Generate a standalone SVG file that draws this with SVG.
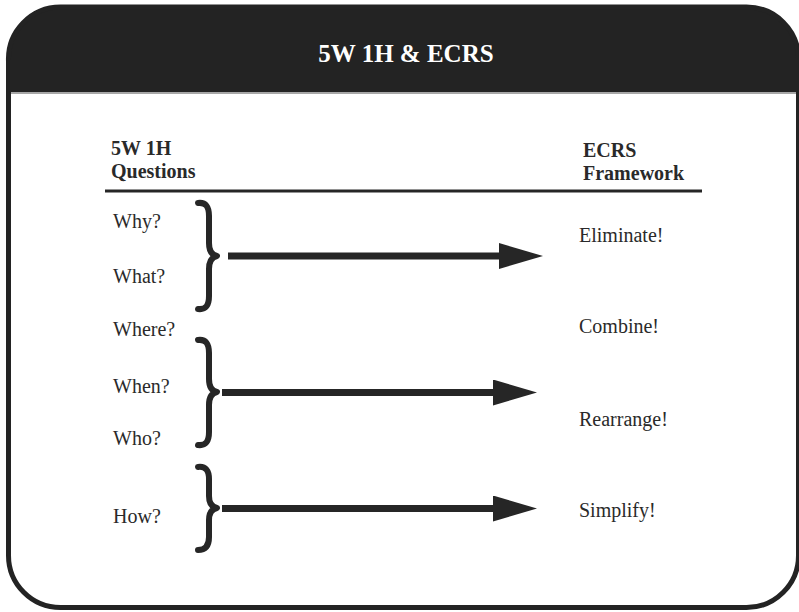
<svg xmlns="http://www.w3.org/2000/svg" width="799" height="612" viewBox="0 0 799 612">
  <style>
    .label { font-family: "Liberation Serif", "Times New Roman", serif; font-size: 20px; fill: #2a2a2a; }
    .head { font-family: "Liberation Serif", "Times New Roman", serif; font-size: 20px; font-weight: bold; fill: #2a2a2a; }
    .title { font-family: "Liberation Serif", "Times New Roman", serif; font-size: 25px; font-weight: bold; fill: #ffffff; }
    .brace { fill: none; stroke: #262626; stroke-width: 6; stroke-linecap: round; stroke-linejoin: round; }
    .shaft { stroke: #262626; stroke-width: 7; fill: none; }
  </style>
  <defs>
    <clipPath id="frameClip">
      <path d="M8.5,61 A52,52 0 0 1 60.5,7 L746.5,7 A52,52 0 0 1 798.5,59 L798.5,555.5 A52,52 0 0 1 746.5,607.5 L60.5,607.5 A52,52 0 0 1 8.5,555.5 Z"/>
    </clipPath>
    <marker id="head" viewBox="0 0 44 26" refX="1" refY="13" markerWidth="44" markerHeight="26" markerUnits="userSpaceOnUse" orient="auto">
      <path d="M0,0 L44,13 L0,26 Z" fill="#262626"/>
    </marker>
  </defs>

  <!-- frame with dark title band -->
  <g id="frame">
    <path d="M8.5,61 A52,52 0 0 1 60.5,7 L746.5,7 A52,52 0 0 1 798.5,59 L798.5,555.5 A52,52 0 0 1 746.5,607.5 L60.5,607.5 A52,52 0 0 1 8.5,555.5 Z" fill="#ffffff"/>
    <rect x="0" y="0" width="799" height="92" fill="#232323" clip-path="url(#frameClip)"/>
    <line x1="8" y1="93" x2="799" y2="93" stroke="#8a8a8a" stroke-width="1.5"/>
    <path d="M8.5,61 A52,52 0 0 1 60.5,7 L746.5,7 A52,52 0 0 1 798.5,59 L798.5,555.5 A52,52 0 0 1 746.5,607.5 L60.5,607.5 A52,52 0 0 1 8.5,555.5 Z" fill="none" stroke="#232323" stroke-width="5"/>
    <text class="title" x="406" y="62" text-anchor="middle">5W 1H &amp; ECRS</text>
  </g>

  <!-- column headings and rule -->
  <g id="heading-questions">
    <text class="head" x="111" y="155">5W 1H</text>
    <text class="head" x="111" y="178">Questions</text>
  </g>
  <g id="heading-ecrs">
    <text class="head" x="583" y="157">ECRS</text>
    <text class="head" x="583" y="180">Framework</text>
  </g>
  <line id="rule" x1="105" y1="191" x2="702" y2="191" stroke="#262626" stroke-width="3"/>

  <!-- questions -->
  <g id="q-why"><text class="label" x="113" y="228">Why?</text></g>
  <g id="q-what"><text class="label" x="113" y="283">What?</text></g>
  <g id="q-where"><text class="label" x="113" y="336">Where?</text></g>
  <g id="q-when"><text class="label" x="113" y="393">When?</text></g>
  <g id="q-who"><text class="label" x="113" y="445">Who?</text></g>
  <g id="q-how"><text class="label" x="113" y="523">How?</text></g>

  <!-- grouping braces -->
  <g id="brace-1">
    <path class="brace" d="M198,203 C206,202 209,207 209,216 L209,243 C209,251 212,255 217,256 C212,257 209,261 209,269 L209,296 C209,305 206,310 198,309"/>
  </g>
  <g id="brace-2">
    <path class="brace" d="M198,340 C206,339 209,344 209,353 L209,379 C209,387 212,391 217,392 C212,393 209,397 209,405 L209,432 C209,441 206,446 198,445"/>
  </g>
  <g id="brace-3">
    <path class="brace" d="M198,467 C206,466 209,471 209,479 L209,496 C209,503 212,507 217,508 C212,509 209,513 209,520 L209,537 C209,545 206,550 198,550"/>
  </g>

  <!-- ECRS actions -->
  <g id="e-eliminate"><text class="label" x="579" y="242">Eliminate!</text></g>
  <g id="e-combine"><text class="label" x="579" y="333">Combine!</text></g>
  <g id="e-rearrange"><text class="label" x="579" y="426">Rearrange!</text></g>
  <g id="e-simplify"><text class="label" x="579" y="517">Simplify!</text></g>

  <!-- connectors -->
  <g id="connectors">
    <line class="shaft" x1="228" y1="256" x2="500" y2="256" marker-end="url(#head)"/>
    <line class="shaft" x1="222" y1="392.5" x2="494" y2="392.5" marker-end="url(#head)"/>
    <line class="shaft" x1="222" y1="508.5" x2="494" y2="508.5" marker-end="url(#head)"/>
  </g>
</svg>
